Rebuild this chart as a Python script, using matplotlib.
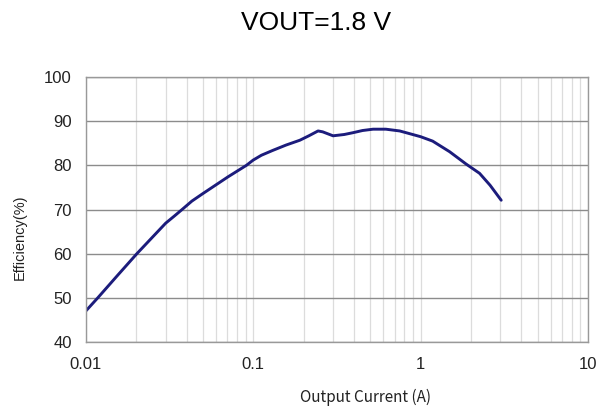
import matplotlib
matplotlib.use("Agg")
import matplotlib.pyplot as plt
from matplotlib.ticker import FixedLocator, NullFormatter

# efficiency curve
current = [0.010, 0.0118, 0.0155, 0.0202, 0.030, 0.034, 0.0376, 0.043, 0.050, 0.0707, 0.091,
           0.100, 0.112, 0.131, 0.157, 0.19, 0.215, 0.244, 0.26, 0.30, 0.35, 0.394,
           0.45, 0.52, 0.62, 0.75, 0.82, 1.0, 1.18, 1.49, 1.87, 2.25, 2.6, 3.03]
efficiency = [47.0, 50.0, 55.1, 60.0, 66.9, 68.6, 70.0, 71.9, 73.6, 77.4, 80.0,
              81.2, 82.3, 83.4, 84.6, 85.7, 86.7, 87.8, 87.6, 86.7, 87.0, 87.4,
              87.9, 88.2, 88.2, 87.8, 87.4, 86.5, 85.5, 83.1, 80.3, 78.2, 75.5, 72.1]

y_ticks = [40, 50, 60, 70, 80, 90, 100]
x_ticks = [0.01, 0.1, 1, 10]
x_labels = ["0.01", "0.1", "1", "10"]

fig = plt.figure(figsize=(6, 4.08), dpi=100)
ax = fig.add_axes([0.143, 0.162, 0.837, 0.649])

ax.set_xscale("log")
ax.set_xlim(0.01, 10)
ax.set_ylim(40, 100)

# light vertical grid at every 1..9 within decades
minor = [m * d for d in [0.01, 0.1, 1] for m in range(2, 10)]
ax.xaxis.set_minor_locator(FixedLocator(minor))
ax.xaxis.set_minor_formatter(NullFormatter())
ax.set_xticks(x_ticks)
ax.set_xticklabels(x_labels)
ax.set_yticks(y_ticks)
ax.grid(True, which="minor", axis="x", color="#dcdcdc", lw=0.9)
ax.grid(True, which="major", axis="x", color="#dcdcdc", lw=0.9)
ax.grid(True, which="major", axis="y", color="#8c8c8c", lw=1.0)
ax.set_axisbelow(True)

for s in ax.spines.values():
    s.set_color("#999999")
    s.set_linewidth(1.0)

ax.tick_params(which="both", length=0, labelsize=12)
ax.tick_params(axis="x", pad=11)
ax.tick_params(axis="y", pad=10)
for lab in ax.get_xticklabels() + ax.get_yticklabels():
    lab.set_family("Liberation Sans")
    lab.set_color("#222222")

ax.plot(current, efficiency, color="#1c1c7c", lw=2.1,
        solid_capstyle="round", solid_joinstyle="round")

fig.text(0.527, 0.944, "VOUT=1.8 V", ha="center", va="center",
         fontsize=19, family="Liberation Sans")
fig.text(0.61, 1 - 397 / 408, "Output Current (A)", ha="center", va="center",
         fontsize=11, family=["Noto Sans CJK JP", "DejaVu Sans"], color="#222222")
fig.text(0.033, 1 - 237 / 408, "Efficiency(%)", ha="center", va="center", rotation=90,
         fontsize=10.5, family=["Liberation Sans", "DejaVu Sans"], color="#222222")

fig.savefig("out.png", dpi=100)
